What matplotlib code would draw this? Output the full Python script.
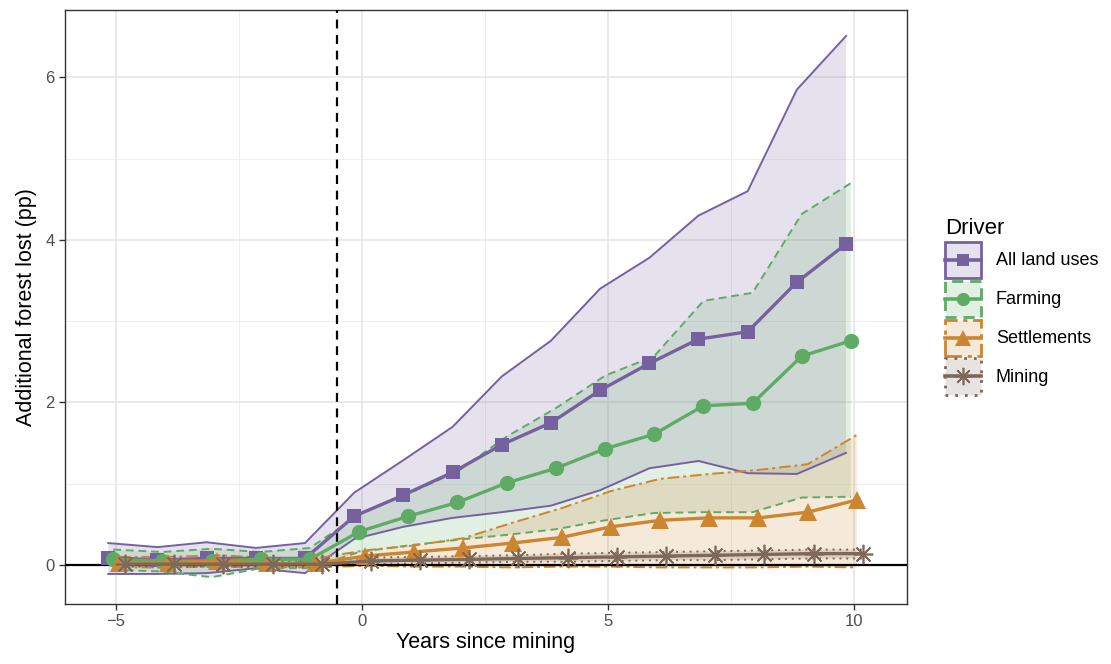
import numpy as np
import matplotlib.pyplot as plt
from matplotlib.patches import Patch
from matplotlib.lines import Line2D
from matplotlib.colors import to_rgba
from matplotlib.transforms import Affine2D
from matplotlib.legend_handler import HandlerTuple, HandlerLine2D

plt.rcParams['font.family'] = ['Liberation Sans', 'DejaVu Sans']

years = np.arange(-5, 11)

all_mean = [0.09, 0.06, 0.08, 0.08, 0.08, 0.60, 0.86, 1.14, 1.48, 1.75, 2.15, 2.48, 2.78, 2.87, 3.48, 3.95]
all_hi = [0.27, 0.22, 0.28, 0.21, 0.27, 0.89, 1.29, 1.70, 2.32, 2.76, 3.40, 3.78, 4.30, 4.60, 5.85, 6.51]
all_lo = [-0.11, -0.11, -0.10, -0.04, -0.10, 0.32, 0.47, 0.58, 0.65, 0.73, 0.92, 1.19, 1.28, 1.13, 1.12, 1.38]

farm_mean = [0.07, 0.05, 0.05, 0.07, 0.07, 0.41, 0.60, 0.77, 1.01, 1.19, 1.43, 1.61, 1.96, 1.99, 2.57, 2.76]
farm_hi = [0.19, 0.16, 0.20, 0.16, 0.21, 0.62, 0.88, 1.15, 1.58, 1.93, 2.33, 2.57, 3.25, 3.35, 4.32, 4.70]
farm_lo = [-0.06, -0.08, -0.15, -0.04, -0.04, 0.16, 0.24, 0.31, 0.37, 0.44, 0.55, 0.64, 0.65, 0.65, 0.83, 0.84]

set_mean = [0.03, 0.03, 0.05, 0.02, 0.02, 0.11, 0.16, 0.21, 0.27, 0.34, 0.47, 0.55, 0.58, 0.58, 0.65, 0.80]
set_hi = [0.10, 0.10, 0.12, 0.09, 0.08, 0.18, 0.24, 0.33, 0.52, 0.70, 0.91, 1.06, 1.12, 1.17, 1.24, 1.60]
set_lo = [-0.03, -0.03, -0.02, -0.03, -0.03, -0.01, -0.02, -0.02, -0.03, -0.02, -0.02, -0.03, -0.03, -0.03, -0.02, -0.03]

mine_mean = [0.01, 0.01, 0.01, 0.01, 0.01, 0.05, 0.06, 0.07, 0.08, 0.09, 0.10, 0.11, 0.12, 0.13, 0.14, 0.14]
mine_hi = [0.04, 0.04, 0.04, 0.04, 0.04, 0.09, 0.10, 0.11, 0.12, 0.14, 0.15, 0.16, 0.17, 0.18, 0.19, 0.19]
mine_lo = [-0.02, -0.02, -0.02, -0.02, -0.02, 0.01, 0.02, 0.03, 0.04, 0.04, 0.05, 0.06, 0.06, 0.07, 0.08, 0.08]

drivers = ['All land uses', 'Farming', 'Settlements', 'Mining']
colors = ['#76619f', '#5faa65', '#cc8530', '#7d6859']
markers = ['s', 'o', '^', (8, 2, 0)]
marker_sizes = [10.5, 11, 12.5, 14]
ribbon_ls = ['-', (0, (4, 2.5)), (0, (6, 2, 1.5, 2)), (0, (1, 2.5))]
offsets = [-0.16, -0.06, 0.06, 0.18]
series = [(all_mean, all_lo, all_hi), (farm_mean, farm_lo, farm_hi),
          (set_mean, set_lo, set_hi), (mine_mean, mine_lo, mine_hi)]


class CenteredLine(HandlerLine2D):
    # put the legend line in the middle of the key box
    def create_artists(self, legend, orig_handle, xdescent, ydescent, width, height,
                       fontsize, trans):
        shift = Affine2D().translate(0, -ydescent / 2) + trans
        return super().create_artists(legend, orig_handle, xdescent, ydescent, width,
                                      height, fontsize, shift)


fig = plt.figure(figsize=(11.11, 6.64), dpi=100)
ax = fig.add_axes([65 / 1111, 60 / 664, 842 / 1111, 594 / 664])

# grid like theme_bw
for v in [-2.5, 2.5, 7.5]:
    ax.axvline(v, color='#efefef', lw=0.7, zorder=0)
for v in [1, 3, 5]:
    ax.axhline(v, color='#efefef', lw=0.7, zorder=0)
for v in [-5, 0, 5, 10]:
    ax.axvline(v, color='#e6e6e6', lw=1.2, zorder=0)
for v in [0, 2, 4, 6]:
    ax.axhline(v, color='#e6e6e6', lw=1.2, zorder=0)

for (m, lo, hi), c, ls, off in zip(series, colors, ribbon_ls, offsets):
    x = years + off
    ax.fill_between(x, lo, hi, facecolor=to_rgba(c, 0.18), edgecolor='none', zorder=1)
    ax.plot(x, lo, color=c, lw=1.4, ls=ls, zorder=2)
    ax.plot(x, hi, color=c, lw=1.4, ls=ls, zorder=2)

ax.axhline(0, color='black', lw=1.6, zorder=3)
ax.axvline(-0.5, color='black', lw=1.6, ls=(0, (4, 3)), zorder=3)

for (m, lo, hi), c, mk, ms, off in zip(series, colors, markers, marker_sizes, offsets):
    x = years + off
    ax.plot(x, m, color=c, lw=2.4, marker=mk, ms=ms, mew=1.2 if mk == markers[3] else 0,
            zorder=4)

ax.set_xlim(-6.04, 11.08)
ax.set_ylim(-0.48, 6.83)
ax.set_xticks([-5, 0, 5, 10])
ax.set_xticklabels(['\u22125', '0', '5', '10'])
ax.set_yticks([0, 2, 4, 6])
ax.tick_params(labelsize=12, colors='#333333', labelcolor='#4d4d4d', length=4, width=1)
for s in ax.spines.values():
    s.set_color('#333333')
    s.set_linewidth(1.0)
ax.set_xlabel('Years since mining', fontsize=15.5, labelpad=2)
ax.set_ylabel('Additional forest lost (pp)', fontsize=15.5, labelpad=6)

handles = []
for c, mk, ms, ls in zip(colors, markers, marker_sizes, ribbon_ls):
    p = Patch(facecolor=to_rgba(c, 0.18), edgecolor=c, linestyle=ls, lw=2.0)
    ln = Line2D([], [], color=c, lw=2.6, marker=mk, ms=ms - 1.5,
                mew=1.2 if mk == markers[3] else 0)
    handles.append((p, ln))

leg = fig.legend(handles, drivers, loc='upper left', bbox_to_anchor=(929 / 1111, 1 - 202 / 664),
                 frameon=False, title='Driver', title_fontsize=16, fontsize=13,
                 handler_map={tuple: HandlerTuple(ndivide=1), Line2D: CenteredLine()},
                 handlelength=2.0, handleheight=2.7, handletextpad=0.8, labelspacing=0.15,
                 alignment='left')

fig.savefig('out.png', dpi=100)
